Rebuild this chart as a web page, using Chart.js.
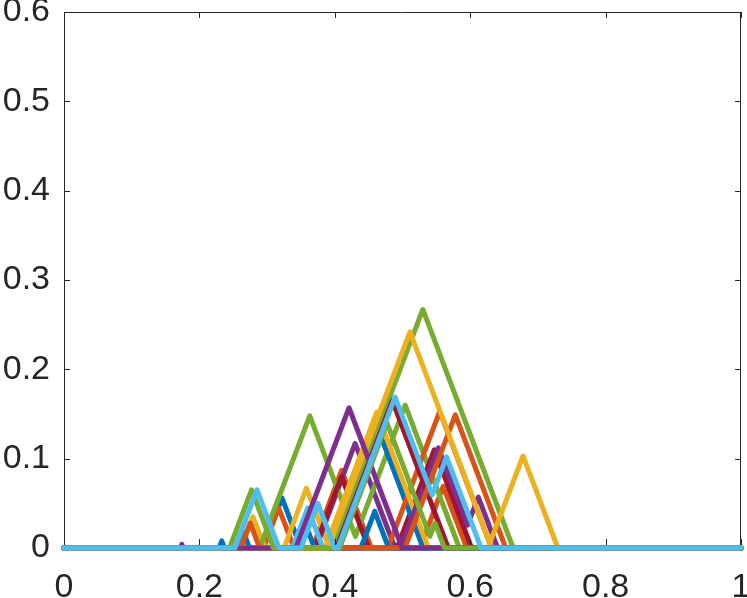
<!DOCTYPE html>
<html>
<head>
<meta charset="utf-8">
<script src="https://cdn.jsdelivr.net/npm/chart.js@4.4.0/dist/chart.umd.min.js"></script>
<style>
  html, body { margin: 0; padding: 0; background: #fff; }
  #wrap { width: 747px; height: 598px; }
</style>
</head>
<body>
<div id="wrap"><canvas id="c" width="747" height="598"></canvas></div>
<script>
// tick labels
const xTickLabels = ['0', '0.2', '0.4', '0.6', '0.8', '1'];
const yTickLabels = ['0', '0.1', '0.2', '0.3', '0.4', '0.5', '0.6'];

// vertices [x, y] for each curve
const s00 = [[0,0],[0.229,0],[0.233,0.008],[0.237,0],[0.294,0],[0.322,0.056],[0.350,0],[1,0]];
const s01 = [[0,0],[0.295,0],[0.317,0.045],[0.340,0],[0.367,0],[0.410,0.087],[0.454,0],[0.526,0],[0.560,0.069],[0.595,0],[1,0]];
const s02 = [[0,0],[0.262,0],[0.279,0.035],[0.297,0],[0.325,0],[0.358,0.067],[0.392,0],[1,0]];
const s03 = [[0,0],[0.172,0],[0.174,0.004],[0.176,0],[0.372,0],[0.430,0.117],[0.489,0],[0.498,0],[0.515,0.035],[0.533,0],[1,0]];
const s04 = [[0,0],[0.289,0],[0.363,0.148],[0.4305,0.013],[0.504,0.160],[0.584,0],[1,0]];
const s05 = [[0,0],[0.4065,0],[0.469,0.125],[0.5315,0],[1,0]];
const s06 = [[0,0],[0.370,0],[0.410,0.080],[0.450,0],[0.492,0],[0.547,0.110],[0.602,0],[1,0]];
const s07 = [[0,0],[0.340,0],[0.355,0.030],[0.370,0],[0.4055,0],[0.468,0.125],[0.5305,0],[1,0]];
const s08 = [[0,0],[0.4785,0],[0.555,0.153],[0.6315,0],[1,0]];
const s09 = [[0,0],[0.386,0],[0.462,0.152],[0.538,0],[1,0]];
const s10 = [[0,0],[0.497,0],[0.553,0.112],[0.596,0.0255],[0.612,0.057],[0.6405,0],[1,0]];
const s11 = [[0,0],[0.3965,0],[0.530,0.267],[0.6635,0],[1,0]];
const s12 = [[0,0],[0.3375,0],[0.360,0.045],[0.3825,0],[1,0]];
const s13 = [[0,0],[0.4025,0],[0.485,0.165],[0.5675,0],[1,0]];
const s14 = [[0,0],[0.256,0],[0.265,0.018],[0.274,0],[0.4385,0],[0.459,0.041],[0.4795,0],[1,0]];
const s15 = [[0,0],[0.261,0],[0.275,0.028],[0.289,0],[0.5035,0],[0.578,0.149],[0.6525,0],[1,0]];
const s16 = [[0,0],[0.390,0],[0.511,0.242],[0.629,0.0055],[0.678,0.103],[0.7295,0],[1,0]];
const s17 = [[0,0],[0.3425,0],[0.421,0.157],[0.4995,0],[1,0]];
const s18 = [[0,0],[0.2445,0],[0.277,0.065],[0.3095,0],[0.407,0],[0.477,0.140],[0.5405,0.013],[0.548,0.028],[0.562,0],[1,0]];
const s19 = [[0,0],[0.2525,0],[0.285,0.065],[0.3175,0],[0.350,0],[0.375,0.050],[0.400,0],[0.4045,0],[0.489,0.169],[0.5438,0.0595],[0.565,0.102],[0.616,0],[1,0]];

const curves = [s00, s01, s02, s03, s04, s05, s06, s07, s08, s09,
                s10, s11, s12, s13, s14, s15, s16, s17, s18, s19];

// matlab default line colours
const lineColors = ['#0072BD', '#D95319', '#EDB120', '#7E2F8E', '#77AC30', '#4DBEEE', '#A2142F'];

const axisColor = '#262626';

const datasets = curves.map((pts, i) => ({
    data: pts.map(p => ({ x: p[0], y: p[1] })),
    borderColor: lineColors[i % lineColors.length],
    borderWidth: 5,
    borderJoinStyle: 'round',
    borderCapStyle: 'round',
    pointRadius: 0,
    tension: 0,
    fill: false,
    clip: 4,
    order: curves.length - 1 - i   // later curves on top, like matlab
}));

// box + inward ticks on all four sides
const boxPlugin = {
    id: 'box',
    afterDraw(chart) {
        const ctx = chart.ctx;
        const a = chart.chartArea;
        const xs = chart.scales.x, ys = chart.scales.y;
        const len = 6;
        ctx.save();
        ctx.strokeStyle = axisColor;
        ctx.lineWidth = 1;
        ctx.beginPath();
        ctx.moveTo(a.left + 0.5, a.top + 0.5);
        ctx.lineTo(a.right - 0.5, a.top + 0.5);
        ctx.lineTo(a.right - 0.5, a.bottom - 3);
        ctx.stroke();
        ctx.beginPath();
        xs.ticks.forEach(t => {
            const px = Math.round(xs.getPixelForValue(t.value)) + 0.5;
            ctx.moveTo(px, a.bottom - 3); ctx.lineTo(px, a.bottom - 3 - len);
            ctx.moveTo(px, a.top); ctx.lineTo(px, a.top + len);
        });
        ys.ticks.forEach(t => {
            const py = Math.round(ys.getPixelForValue(t.value)) + 0.5;
            if (t.value === 0) return;
            ctx.moveTo(a.left, py); ctx.lineTo(a.left + len, py);
            ctx.moveTo(a.right, py); ctx.lineTo(a.right - len, py);
        });
        ctx.stroke();
        ctx.restore();
    }
};

const tickFont = { family: '"Liberation Sans", Arial, Helvetica, sans-serif', size: 34 };

new Chart(document.getElementById('c'), {
    type: 'line',
    data: { datasets },
    options: {
        responsive: false,
        animation: false,
        events: [],
        layout: { padding: { top: 12, right: 6, left: 0, bottom: 0 } },
        plugins: { legend: { display: false }, tooltip: { enabled: false } },
        scales: {
            x: {
                type: 'linear', min: 0, max: 1,
                grid: { display: false },
                border: { display: true, color: axisColor, width: 1 },
                ticks: {
                    stepSize: 0.2, color: axisColor, font: tickFont, padding: 11, maxRotation: 0,
                    callback: (v, i) => xTickLabels[i]
                },
                afterFit(s) { s.height = 50; s.paddingLeft = 0; s.paddingRight = 0; }
            },
            y: {
                type: 'linear', min: 0, max: 0.6,
                grid: { display: false },
                border: { display: true, color: axisColor, width: 1 },
                ticks: {
                    stepSize: 0.1, color: axisColor, font: tickFont, padding: 6,
                    callback: (v, i) => yTickLabels[i]
                },
                afterFit(s) { s.width = 64; s.paddingTop = 0; s.paddingBottom = 0; }
            }
        }
    },
    plugins: [boxPlugin]
});
</script>
</body>
</html>
